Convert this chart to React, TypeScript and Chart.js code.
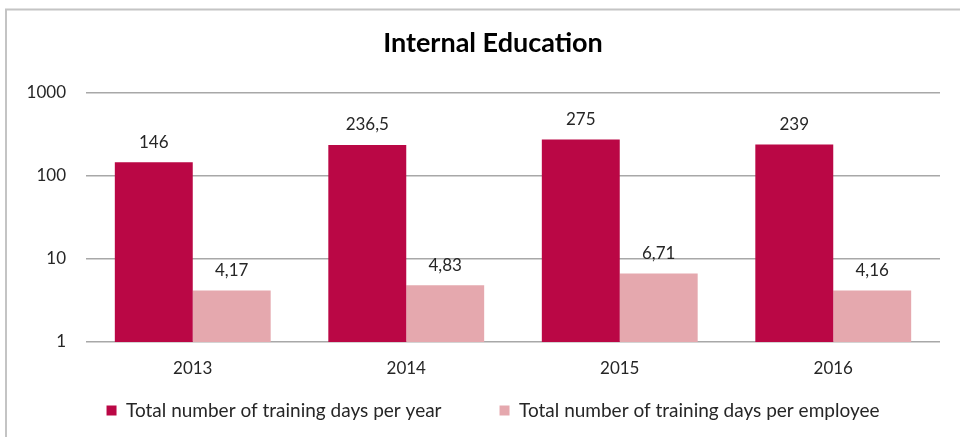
import React, { useEffect, useRef } from "react";
import { Chart, registerables } from "chart.js";

Chart.register(...registerables);

const categories = ["2013", "2014", "2015", "2016"];
const seriesNames = [
  "Total number of training days per year",
  "Total number of training days per employee",
];
const daysPerYear = [146, 236.5, 275, 239];
const daysPerEmployee = [4.17, 4.83, 6.71, 4.16];
const yTicks = [1, 10, 100, 1000];
const titleText = "Internal Education";

const FONT = "Lato, 'Open Sans', sans-serif";
const TEXT = "#262626";

const fmt = (v: number) => String(v).replace(".", ",");

const borderPlugin = {
  id: "frameBorder",
  beforeDraw(chart: any) {
    const ctx = chart.ctx;
    ctx.save();
    ctx.strokeStyle = "#c4c4c4";
    ctx.lineWidth = 2;
    ctx.strokeRect(6, 9.5, 2000, 2000);
    ctx.restore();
  },
};

const valueLabels = {
  id: "valueLabels",
  afterDatasetsDraw(chart: any) {
    const ctx = chart.ctx;
    ctx.save();
    ctx.font = `17px ${FONT}`;
    ctx.fillStyle = TEXT;
    ctx.textAlign = "center";
    ctx.textBaseline = "middle";
    chart.data.datasets.forEach((ds: any, di: number) => {
      const meta = chart.getDatasetMeta(di);
      meta.data.forEach((el: any, i: number) => {
        ctx.fillText(fmt(ds.data[i]), el.x, el.y - 20);
      });
    });
    ctx.restore();
  },
};

export default function App() {
  const ref = useRef<HTMLCanvasElement | null>(null);
  useEffect(() => {
    if (!ref.current) return;
    const chart = new Chart(ref.current, {
      type: "bar",
      data: {
        labels: categories,
        datasets: [
          {
            label: seriesNames[0],
            data: daysPerYear,
            backgroundColor: "#BA0745",
            categoryPercentage: 0.73,
            barPercentage: 1,
          },
          {
            label: seriesNames[1],
            data: daysPerEmployee,
            backgroundColor: "#E5A8AE",
            categoryPercentage: 0.73,
            barPercentage: 1,
          },
        ],
      },
      options: {
        animation: false,
        responsive: false,
        layout: { padding: { left: 26, right: 0, top: 0, bottom: 7 } },
        scales: {
          x: {
            grid: { display: false, drawTicks: false },
            border: { display: false },
            ticks: {
              color: TEXT,
              font: { family: FONT, size: 17 },
              mirror: true,
              padding: -37.2,
              autoSkip: false,
            },
            afterFit: (s: any) => {
              s.height = 1;
            },
          },
          y: {
            type: "logarithmic",
            min: 1,
            max: 1000,
            grid: { color: "#a8a8a8", lineWidth: 1.5, drawTicks: false },
            border: { display: false },
            afterBuildTicks: (s: any) => {
              s.ticks = yTicks.map((v) => ({ value: v }));
            },
            ticks: {
              color: TEXT,
              font: { family: FONT, size: 17 },
              padding: 20,
              callback: (v: any) => String(v),
            },
            afterFit: (s: any) => {
              s.width = 60;
            },
          },
          y2: {
            type: "linear",
            position: "right",
            display: true,
            grid: { display: false, drawTicks: false },
            border: { display: false },
            ticks: { display: false },
            afterFit: (s: any) => {
              s.width = 20;
            },
          },
        },
        plugins: {
          title: {
            display: true,
            text: titleText,
            color: "#000",
            font: { family: FONT, size: 27, weight: "bold" },
            padding: { top: 26.8, bottom: 33.8 },
          },
          legend: {
            position: "bottom",
            labels: {
              boxWidth: 10,
              boxHeight: 10,
              padding: 58,
              color: TEXT,
              font: { family: FONT, size: 19 },
            },
          },
          tooltip: { enabled: false },
        },
      },
      plugins: [borderPlugin, valueLabels],
    });
    return () => chart.destroy();
  }, []);
  return (
    <div style={{ position: "absolute", left: 0, top: 0, width: 960, height: 437, background: "#fff" }}>
      <canvas ref={ref} width={960} height={437} style={{ display: "block" }} />
    </div>
  );
}
